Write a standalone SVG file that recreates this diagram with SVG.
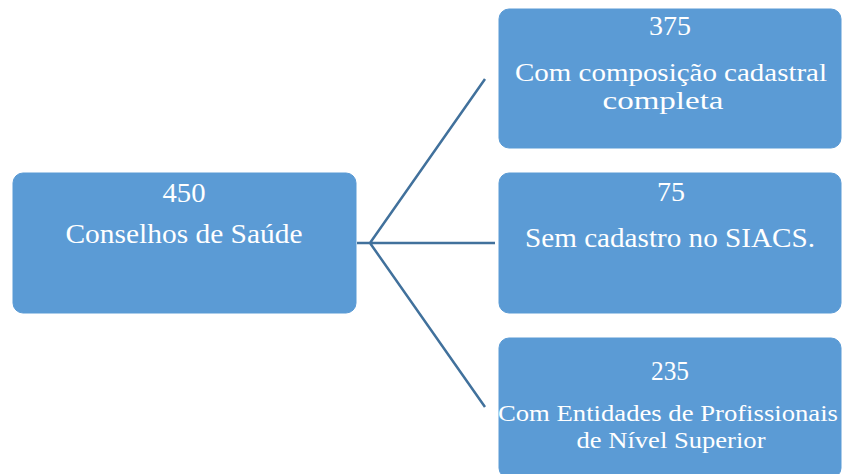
<svg xmlns="http://www.w3.org/2000/svg" width="842" height="474" viewBox="0 0 842 474">
<style>
.box{fill:#5B9BD5;stroke:#5B9BD5;stroke-width:1}
.t{font-family:'Liberation Serif','Times New Roman','DejaVu Serif',serif;fill:#ffffff;text-anchor:middle;font-size:27px}
.m{font-size:26px}
.s{font-size:24px}
.c{stroke:#41719C;stroke-width:2.5;fill:none}
</style>
<rect width="842" height="474" fill="#ffffff"/>
<g id="connectors">
<path class="c" d="M357 243 H370 L485 79 M370 243 H495 M370 243 L485 407"/>
</g>
<g id="n0">
<rect class="box" x="13" y="173" width="343" height="140" rx="10"/>
<text class="t" x="184" y="202" textLength="43" lengthAdjust="spacingAndGlyphs">450</text>
<text class="t" x="184" y="243" textLength="237" lengthAdjust="spacingAndGlyphs">Conselhos de Saúde</text>
</g>
<g id="n1">
<rect class="box" x="499" y="9" width="342" height="139" rx="10"/>
<text class="t" x="670" y="35" textLength="42" lengthAdjust="spacingAndGlyphs">375</text>
<text class="t m" x="671" y="81" textLength="312" lengthAdjust="spacingAndGlyphs">Com composição cadastral</text>
<text class="t m" x="663" y="109" textLength="121" lengthAdjust="spacingAndGlyphs">completa</text>
</g>
<g id="n2">
<rect class="box" x="499" y="173" width="342" height="140" rx="10"/>
<text class="t" x="671" y="201" textLength="28" lengthAdjust="spacingAndGlyphs">75</text>
<text class="t" x="670" y="247" textLength="290" lengthAdjust="spacingAndGlyphs">Sem cadastro no SIACS.</text>
</g>
<g id="n3">
<rect class="box" x="499" y="338" width="342" height="140" rx="10"/>
<text class="t" x="670" y="380" textLength="38" lengthAdjust="spacingAndGlyphs">235</text>
<text class="t s" x="668" y="421" textLength="340" lengthAdjust="spacingAndGlyphs">Com Entidades de Profissionais</text>
<text class="t s" x="671" y="448" textLength="189" lengthAdjust="spacingAndGlyphs">de Nível Superior</text>
</g>
</svg>
